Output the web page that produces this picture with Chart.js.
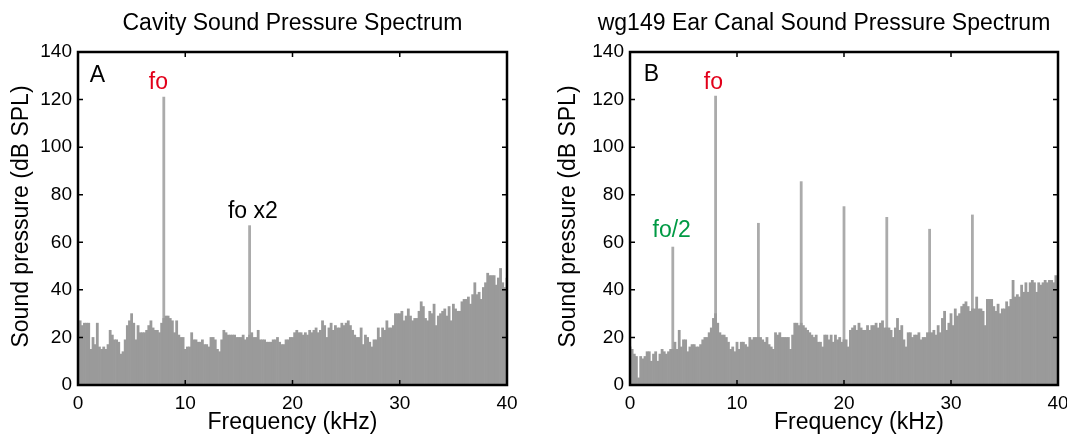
<!DOCTYPE html>
<html>
<head>
<meta charset="utf-8">
<script src="https://cdn.jsdelivr.net/npm/chart.js"></script>
<style>
  html, body { margin: 0; padding: 0; background: #fff; overflow: hidden; width: 1067px; height: 435px; }
  canvas { position: absolute; top: 0; }
  #cavity { left: 0; }
  #earCanal { left: 540px; }
</style>
</head>
<body>
<canvas id="cavity" width="540" height="435"></canvas>
<canvas id="earCanal" width="560" height="435"></canvas>
<script>
// Spectrum levels in dB SPL, one value per 0.2 kHz bin from 0 to 40 kHz
const BINS_PER_KHZ = 5;

const cavityLevels = [
  27,27,25,26,26,26,15,20,17,26, 16,15,16,15,17,23,21,19,19,18,
  13,14,19,25,27,30,26,19,25,22, 22,22,23,25,27,24,23,23,22,26,
  28,29,29,28,27,22,27,21,20,20, 15,16,16,22,19,19,18,18,19,17,
  17,16,20,20,19,15,14,19,23,22, 21,21,21,21,20,20,20,21,19,20,
  21,22,20,20,23,19,19,19,18,18, 18,19,19,20,18,17,17,19,19,20,
  20,22,23,22,22,21,22,21,23,22, 23,24,22,23,27,25,20,24,26,23,
  25,24,24,26,25,26,27,25,23,21, 20,20,24,17,21,20,18,16,19,19,
  24,20,24,23,27,24,24,25,30,30, 30,31,27,29,32,29,27,28,28,31,
  35,33,28,27,31,30,34,25,29,30, 31,32,29,33,27,34,32,31,31,35,
  36,36,37,34,38,43,38,39,36,41, 43,47,46,46,46,42,45,49,43,41,
  45
];
const cavityPeakKHz = [8, 16];
const cavityPeakDb = [121, 67];

const earLevels = [
  16,15,13,12,3,12,11,12,14,14, 10,13,14,10,13,15,14,13,14,15,
  15,18,15,23,16,19,19,14,16,17, 17,16,16,17,19,20,20,22,24,28,
  30,26,22,21,21,20,18,15,16,14, 18,15,18,18,17,16,20,19,20,20,
  20,20,19,18,20,17,16,15,22,21, 22,20,20,20,20,15,21,26,26,25,
  26,25,24,23,22,21,20,21,18,18, 16,21,21,19,21,18,21,19,20,18,
  19,19,16,23,24,25,23,26,24,23, 23,25,23,25,25,26,24,26,27,24,
  24,24,23,20,24,28,23,25,19,16, 22,22,20,21,21,22,19,20,20,22,
  22,22,23,21,25,22,28,31,23,26, 30,25,32,29,30,33,34,35,33,31,
  32,32,37,32,32,31,25,36,36,36, 33,31,34,30,32,32,35,33,36,44,
  37,38,37,42,39,43,39,43,44,43, 39,43,42,43,44,43,44,44,43,46,
  45
];
const earPeakKHz = [4, 8, 12, 16, 20, 24, 28, 32];
const earPeakDb = [58, 121.5, 68, 85.5, 75, 70.5, 65.5, 71.5];

const FONT = '"Liberation Sans", Arial, Helvetica, sans-serif';

//------------------------------------------

// box, inward ticks and all the text labels
const frameAndLabels = {
  id: 'frameAndLabels',
  afterDatasetsDraw(chart, args, opts) {
    const {ctx, chartArea: {left, right, top, bottom}, scales: {x, y}} = chart;
    ctx.save();
    ctx.strokeStyle = '#000';
    ctx.lineWidth = 1.5;
    ctx.beginPath();
    x.ticks.forEach(t => {
      const px = x.getPixelForValue(t.value);
      ctx.moveTo(px, bottom); ctx.lineTo(px, bottom - 5);
      ctx.moveTo(px, top); ctx.lineTo(px, top + 5);
    });
    y.ticks.forEach(t => {
      const py = y.getPixelForValue(t.value);
      ctx.moveTo(left, py); ctx.lineTo(left + 5, py);
      ctx.moveTo(right, py); ctx.lineTo(right - 5, py);
    });
    ctx.stroke();
    ctx.lineWidth = 2.5;
    ctx.strokeRect(left, top, right - left, bottom - top);

    ctx.font = '23px ' + FONT;
    ctx.fillStyle = '#000';
    ctx.textAlign = 'center';
    ctx.textBaseline = 'alphabetic';
    ctx.fillText(opts.title, opts.titleAt[0], opts.titleAt[1]);
    ctx.fillText('Frequency (kHz)', opts.xLabelAt[0], opts.xLabelAt[1]);

    ctx.save();
    ctx.translate(opts.yLabelAt[0], opts.yLabelAt[1]);
    ctx.rotate(-Math.PI / 2);
    ctx.textBaseline = 'middle';
    ctx.fillText('Sound pressure (dB SPL)', 0, 0);
    ctx.restore();

    opts.notes.forEach(n => {
      ctx.fillStyle = n.color;
      ctx.fillText(n.text, x.getPixelForValue(n.kHz), y.getPixelForValue(n.dB));
    });
    ctx.restore();
  }
};

function makeConfig(levels, peakKHz, peakDb, axisWidth, padRight, labels) {
  return {
    type: 'bar',
    data: {
      datasets: [
        {
          data: levels.map((db, i) => ({x: i / BINS_PER_KHZ, y: db})),
          backgroundColor: '#9a9a9a',
          grouped: false,
          order: 0,
          clip: 0
        },
        {
          data: peakKHz.map((f, i) => ({x: f, y: peakDb[i]})),
          backgroundColor: '#ababab',
          grouped: false,
          order: 1,
          clip: 0
        }
      ]
    },
    options: {
      responsive: false,
      animation: false,
      barPercentage: 1,
      categoryPercentage: 1,
      layout: {padding: {top: 52, right: padRight, left: 0, bottom: 0}},
      scales: {
        x: {
          type: 'linear',
          min: 0, max: 40,
          offset: false,
          grid: {display: false, drawTicks: false},
          border: {display: false},
          ticks: {stepSize: 10, color: '#000', padding: 7, font: {size: 19, family: FONT}},
          afterFit: scale => { scale.height = 50; }
        },
        y: {
          min: 0, max: 140,
          grid: {display: false, drawTicks: false},
          border: {display: false},
          ticks: {stepSize: 20, color: '#000', padding: 6, font: {size: 19, family: FONT}},
          afterFit: scale => { scale.width = axisWidth; }
        }
      },
      plugins: {
        legend: {display: false},
        tooltip: {enabled: false},
        frameAndLabels: labels
      }
    },
    plugins: [frameAndLabels]
  };
}

//------------------------------------------

const cavityChart = new Chart(document.getElementById('cavity'),
  makeConfig(cavityLevels, cavityPeakKHz, cavityPeakDb, 78, 33, {
    title: 'Cavity Sound Pressure Spectrum',
    titleAt: [292.5, 30],
    xLabelAt: [292.5, 429],
    yLabelAt: [22, 216.5],
    notes: [
      {text: 'A', color: '#000', kHz: 1.8, dB: 127.3},
      {text: 'fo', color: '#e2001a', kHz: 7.5, dB: 124.4},
      {text: 'fo x2', color: '#000', kHz: 16.3, dB: 70.2}
    ]
  }));

const earChart = new Chart(document.getElementById('earCanal'),
  makeConfig(earLevels, earPeakKHz, earPeakDb, 90, 42, {
    title: 'wg149 Ear Canal Sound Pressure Spectrum',
    titleAt: [284, 30],
    xLabelAt: [319, 429],
    yLabelAt: [29, 216.5],
    notes: [
      {text: 'B', color: '#000', kHz: 2.0, dB: 127.7},
      {text: 'fo', color: '#e2001a', kHz: 7.8, dB: 124.4},
      {text: 'fo/2', color: '#009a44', kHz: 3.9, dB: 62.2}
    ]
  }));
</script>
</body>
</html>
